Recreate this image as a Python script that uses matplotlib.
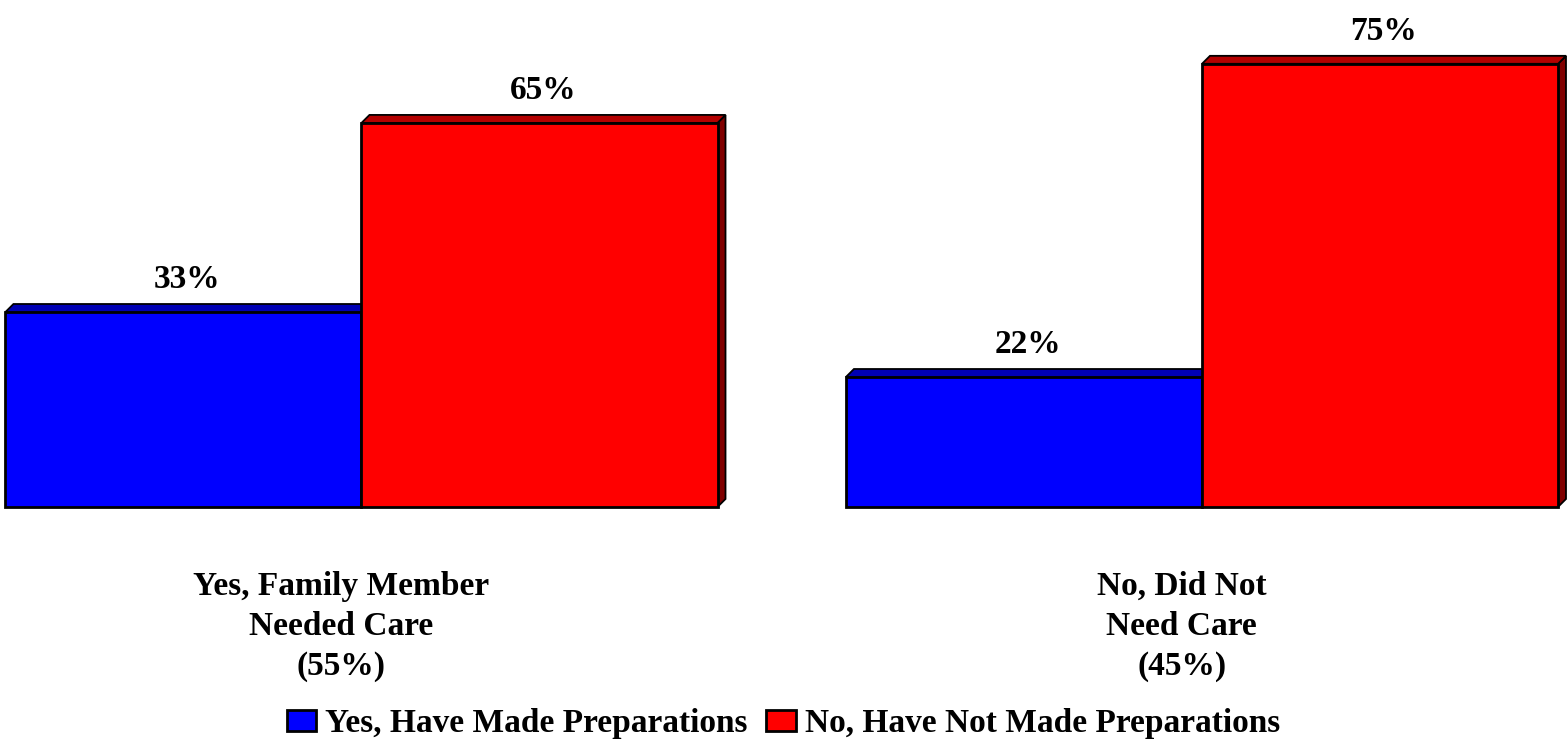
import matplotlib.pyplot as plt
from matplotlib.patches import Polygon, Patch

plt.rcParams['font.family'] = ['Liberation Serif', 'DejaVu Serif']
plt.rcParams['font.weight'] = 'bold'

groups = ["Yes, Family Member\nNeeded Care\n(55%)", "No, Did Not\nNeed Care\n(45%)"]
series = ["Yes, Have Made Preparations", "No, Have Not Made Preparations"]
yes_vals = [33, 22]
no_vals = [65, 75]

front = ['#0000FF', '#FF0000']
top = ['#0000B4', '#B40000']
side = ['#000080', '#800000']

fig = plt.figure(figsize=(15.67, 7.51), dpi=100)
ax = fig.add_axes([0, 0, 1, 1])
ax.set_xlim(-0.4301, 1.4343)
ax.set_ylim(-41.3, 85.8)
ax.axis('off')

w = 0.4236
dx = 0.0095
dy = 1.35

for i, vals in enumerate([yes_vals, no_vals]):
    for g, v in enumerate(vals):
        x0 = g - w + i * w
        x1 = x0 + w
        ax.bar(x0, v, width=w, align='edge', color=front[i], edgecolor='black', linewidth=2, zorder=2 + i)
        ax.add_patch(Polygon([(x0, v), (x1, v), (x1 + dx, v + dy), (x0 + dx, v + dy)],
                             closed=True, facecolor=top[i], edgecolor='black', linewidth=1.3, zorder=2 + i))
        ax.add_patch(Polygon([(x1, 0), (x1 + dx, dy), (x1 + dx, v + dy), (x1, v)],
                             closed=True, facecolor=side[i], edgecolor='black', linewidth=1.3, zorder=1 + i))
        ax.text((x0 + x1) / 2 + dx / 2, v + dy + 1.5, f"{v}%", ha='center', va='bottom',
                fontsize=24, fontweight='bold')

for g, lab in enumerate(groups):
    ax.text(g - 0.024, -10.8, lab, ha='center', va='top', fontsize=24, fontweight='bold', linespacing=1.38)

handles = [Patch(facecolor=front[i], edgecolor='black', linewidth=2) for i in range(2)]
fig.legend(handles, series, loc='center', bbox_to_anchor=(0.5, 0.036), ncol=2, frameon=False,
           handlelength=0.88, handleheight=0.6, handletextpad=0.27, columnspacing=0.55,
           prop={'weight': 'bold', 'size': 24})

fig.savefig('out.png', dpi=100)
